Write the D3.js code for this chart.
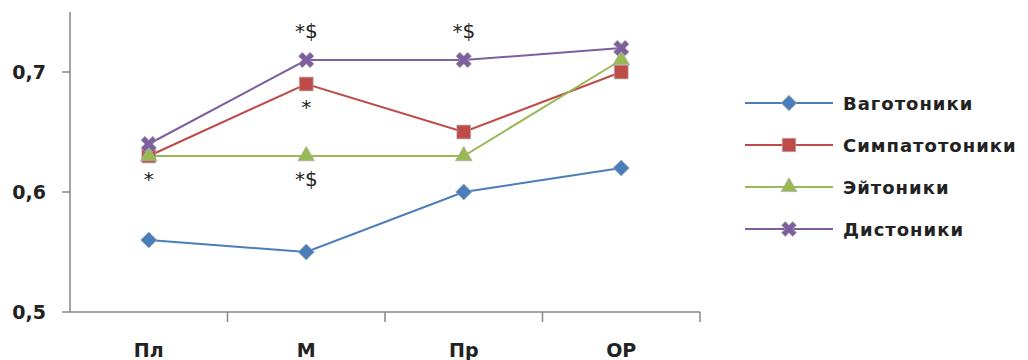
<!DOCTYPE html>
<html>
<head>
<meta charset="utf-8">
<script src="https://cdn.jsdelivr.net/npm/d3@7"></script>
<style>
  body { margin: 0; background: #fff; }
  text { font-family: "DejaVu Sans", sans-serif; fill: #222; }
</style>
</head>
<body>
<script>
// data
var categories = ["Пл", "М", "Пр", "OP"];
var seriesNames = ["Ваготоники", "Симпатотоники", "Эйтоники", "Дистоники"];
var vagotonics = [0.56, 0.55, 0.60, 0.62];
var sympathotonics = [0.63, 0.69, 0.65, 0.70];
var eutonics = [0.63, 0.63, 0.63, 0.71];
var dystonics = [0.64, 0.71, 0.71, 0.72];
var yTicks = [0.5, 0.6, 0.7];
// significance marks: category index, value, label, above(-) / below(+)
var marks = [
  {cat: 0, value: 0.63, label: "*", dir: 1},
  {cat: 1, value: 0.71, label: "*$", dir: -1},
  {cat: 1, value: 0.69, label: "*", dir: 1},
  {cat: 1, value: 0.63, label: "*$", dir: 1},
  {cat: 2, value: 0.71, label: "*$", dir: -1}
];

var colors = ["#4a7ebb", "#be4b48", "#98b954", "#7d5fa0"];
var symbols = [d3.symbolSquare, d3.symbolSquare, d3.symbolTriangle, d3.symbolCross];
var sizes = [130, 190, 120, 150];
var rotations = [45, 0, 0, 45];
var allSeries = [vagotonics, sympathotonics, eutonics, dystonics];

var svg = d3.select("body").append("svg")
    .attr("width", 1028).attr("height", 360);

var x = d3.scaleBand().domain(categories).range([70, 700]);
var y = d3.scaleLinear().domain([0.5, 0.75]).range([312, 12]);

// axes
var axisColor = "#868686";
svg.append("line").attr("x1", 70).attr("x2", 70).attr("y1", 12).attr("y2", 312)
  .attr("stroke", axisColor).attr("stroke-width", 1.5);
svg.append("line").attr("x1", 70).attr("x2", 700).attr("y1", 312).attr("y2", 312)
  .attr("stroke", axisColor).attr("stroke-width", 1.5);

svg.selectAll(".ytick").data(yTicks).enter().append("line")
  .attr("x1", 62).attr("x2", 70)
  .attr("y1", function(d) { return y(d); }).attr("y2", function(d) { return y(d); })
  .attr("stroke", axisColor).attr("stroke-width", 1.5);
svg.selectAll(".ylab").data(yTicks).enter().append("text")
  .attr("x", 46).attr("y", function(d) { return y(d) + 7; })
  .attr("text-anchor", "end").attr("font-size", 19).attr("font-weight", "bold")
  .attr("fill", "#333")
  .text(function(d) { return d3.format(".1f")(d).replace(".", ","); });

svg.selectAll(".xtick").data(categories).enter().append("line")
  .attr("x1", function(d, i) { return 70 + x.bandwidth() * (i + 1); })
  .attr("x2", function(d, i) { return 70 + x.bandwidth() * (i + 1); })
  .attr("y1", 312).attr("y2", 322)
  .attr("stroke", axisColor).attr("stroke-width", 1.5);
svg.selectAll(".xlab").data(categories).enter().append("text")
  .attr("x", function(d) { return x(d) + x.bandwidth() / 2; })
  .attr("y", 357).attr("text-anchor", "middle")
  .attr("font-size", 19).attr("font-weight", "bold").attr("fill", "#333")
  .text(function(d) { return d; });

// lines + markers
var line = d3.line()
  .x(function(d, i) { return x(categories[i]) + x.bandwidth() / 2; })
  .y(function(d) { return y(d); });

allSeries.forEach(function(vals, s) {
  svg.append("path").datum(vals)
    .attr("d", line).attr("fill", "none")
    .attr("stroke", colors[s]).attr("stroke-width", 2);
});
allSeries.forEach(function(vals, s) {
  svg.selectAll(".m" + s).data(vals).enter().append("path")
    .attr("transform", function(d, i) {
      return "translate(" + (x(categories[i]) + x.bandwidth() / 2) + "," + y(d) + ") rotate(" + rotations[s] + ")";
    })
    .attr("d", d3.symbol().type(symbols[s]).size(sizes[s]))
    .attr("fill", colors[s]).attr("stroke", "#aaa").attr("stroke-width", 0.7);
});

// significance marks
svg.selectAll(".sig").data(marks).enter().append("text")
  .attr("x", function(d) { return x(categories[d.cat]) + x.bandwidth() / 2; })
  .attr("y", function(d) { return y(d.value) + (d.dir > 0 ? 30 : -22); })
  .attr("text-anchor", "middle").attr("font-size", 20).attr("fill", "#333")
  .text(function(d) { return d.label; });

// legend
var legend = svg.selectAll(".leg").data(seriesNames).enter().append("g")
  .attr("transform", function(d, i) { return "translate(745," + (103 + i * 42) + ")"; });
legend.append("line").attr("x1", 0).attr("x2", 88)
  .attr("stroke", function(d, i) { return colors[i]; }).attr("stroke-width", 2);
legend.append("path")
  .attr("transform", function(d, i) { return "translate(44,0) rotate(" + rotations[i] + ")"; })
  .attr("d", function(d, i) { return d3.symbol().type(symbols[i]).size(sizes[i] - 10)(); })
  .attr("fill", function(d, i) { return colors[i]; }).attr("stroke", "#aaa").attr("stroke-width", 0.7);
legend.append("text").attr("x", 98).attr("y", 7)
  .attr("font-size", 18).attr("font-weight", "bold").attr("fill", "#333")
  .attr("letter-spacing", 1)
  .text(function(d) { return d; });
</script>
</body>
</html>
